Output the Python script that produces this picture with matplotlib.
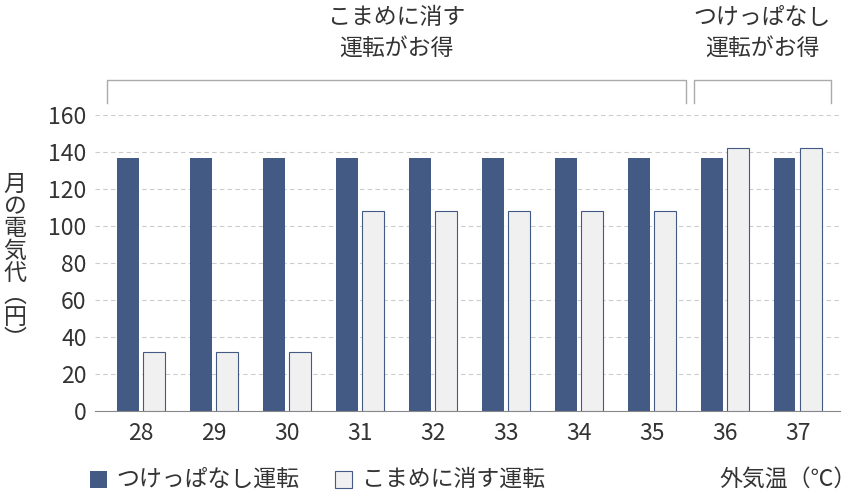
import numpy as np
import matplotlib.pyplot as plt
from matplotlib.lines import Line2D

plt.rcParams['font.family'] = ['Noto Sans CJK JP', 'DejaVu Sans']

temps = ["28", "29", "30", "31", "32", "33", "34", "35", "36", "37"]
always_on = [137, 137, 137, 137, 137, 137, 137, 137, 137, 137]
frequent_off = [32, 32, 32, 108, 108, 108, 108, 108, 142, 142]

DARK = "#435a84"
LIGHT = "#f0f0f0"
TXT = "#333333"
FS = 16.5
W, H = 864, 495

fig = plt.figure(figsize=(8.64, 4.95), dpi=100)
ax = fig.add_axes([95 / W, 1 - 411 / H, (840 - 95) / W, (411 - 115) / H])

x = np.arange(len(temps))
bw = 0.3
ax.bar(x - 0.18, always_on, bw, color=DARK, zorder=3)
ax.bar(x + 0.18, frequent_off, bw, color=LIGHT, edgecolor=DARK, linewidth=0.8, zorder=3)

ax.set_xlim(-0.63, 9.58)
ax.set_ylim(0, 160)
ax.set_yticks(range(0, 161, 20))
ax.set_xticks(x)
ax.set_xticklabels(temps)
ax.tick_params(axis='both', length=0, labelsize=FS, colors=TXT)
ax.tick_params(axis='x', pad=8)
ax.tick_params(axis='y', pad=6)
ax.grid(axis='y', color="#cccccc", ls=(0, (4, 3)), lw=0.8, zorder=0)
for s in ['left', 'right', 'top']:
    ax.spines[s].set_visible(False)
ax.spines['bottom'].set_color("#888888")

fig.text(15 / W, 1 - 262 / H, "\n".join("月の電気代") + "\n︵\n円\n︶", ha='center', va='center',
         fontsize=FS, color=TXT, linespacing=0.95)


def bracket(x0, x1, label):
    y0, y1 = 1 - 103 / H, 1 - 80 / H
    xs = [x0 / W, x0 / W, x1 / W, x1 / W]
    ys = [y0, y1, y1, y0]
    fig.add_artist(Line2D(xs, ys, transform=fig.transFigure, color="#aaaaaa", lw=1))
    fig.text((x0 + x1) / 2 / W, 1 - 33 / H, label, ha='center', va='center',
             fontsize=FS, color=TXT, linespacing=1.45)


bracket(107, 686, "こまめに消す\n運転がお得")
bracket(694, 831, "つけっぱなし\n運転がお得")

# legend
fig.patches.append(plt.Rectangle((90 / W, 1 - 488 / H), 17 / W, 17 / H, transform=fig.transFigure,
                                 facecolor=DARK, figure=fig))
fig.text(116 / W, 1 - 479 / H, "つけっぱなし運転", va='center', fontsize=FS, color=TXT)
fig.patches.append(plt.Rectangle((335 / W, 1 - 488 / H), 17 / W, 17 / H, transform=fig.transFigure,
                                 facecolor=LIGHT, edgecolor=DARK, lw=0.8, figure=fig))
fig.text(362 / W, 1 - 479 / H, "こまめに消す運転", va='center', fontsize=FS, color=TXT)
fig.text(857 / W, 1 - 479 / H, "外気温（℃）", ha='right', va='center', fontsize=FS, color=TXT)

fig.savefig("out.png", dpi=100)
